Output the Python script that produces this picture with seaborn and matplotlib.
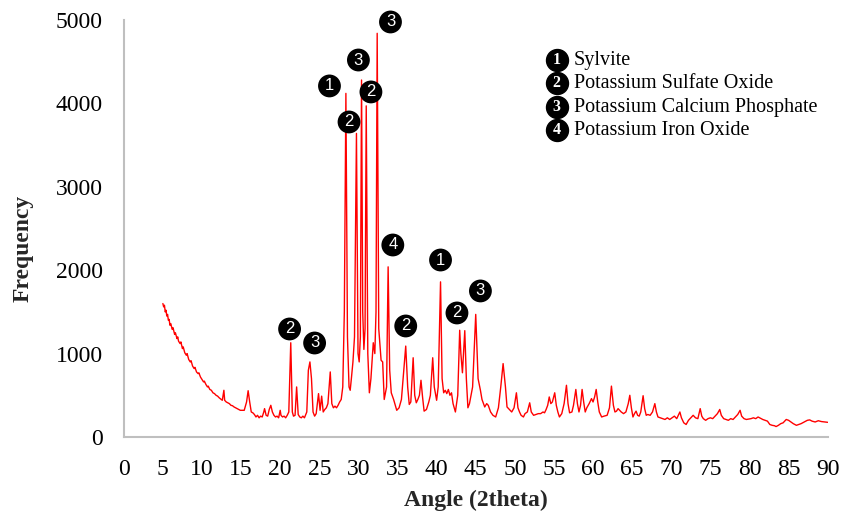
import pandas as pd
import matplotlib
matplotlib.use('Agg')
import matplotlib.pyplot as plt
import seaborn as sns

# XRD 패턴
angle = [5.0, 5.1, 5.2, 5.3, 5.4, 5.5, 5.6, 5.7, 5.8, 5.9, 6.0, 6.2, 6.3, 6.5, 6.6, 6.8, 6.9, 7.0,
         7.2, 7.3, 7.5, 7.6, 7.8, 8.0, 8.1, 8.3, 8.5, 8.6, 8.8, 9.0, 9.1, 9.3, 9.5, 9.6, 9.8, 10.0,
         10.2, 10.3, 10.5, 10.7, 10.8, 11.0, 11.2, 11.4, 11.6, 11.8, 12.0, 12.2, 12.4, 12.6, 12.8, 12.9,
         13.1, 13.3, 13.5, 13.7, 13.9, 14.1, 14.3, 14.5, 14.7, 14.9, 15.1, 15.4, 15.7, 15.9, 16.1, 16.3,
         16.5, 16.7, 16.9, 17.1, 17.3, 17.5, 17.7, 17.9, 18.0, 18.2, 18.4, 18.6, 18.8, 19.0, 19.2, 19.4,
         19.6, 19.8, 20.0, 20.1, 20.3, 20.5, 20.7, 20.9, 21.1, 21.35, 21.55, 21.7, 21.9, 22.1, 22.3, 22.5,
         22.7, 22.9, 23.1, 23.4, 23.6, 23.8, 24.0, 24.2, 24.4, 24.6, 24.9, 25.1, 25.3, 25.5, 25.7, 25.9,
         26.1, 26.4, 26.6, 26.8, 27.0, 27.2, 27.4, 27.6, 27.8, 28.0, 28.2, 28.4, 28.6, 28.8, 28.95, 29.1,
         29.3, 29.5, 29.75, 29.95, 30.1, 30.25, 30.4, 30.55, 30.7, 30.85, 31.0, 31.2, 31.4, 31.6, 31.9, 32.1,
         32.25, 32.4, 32.6, 32.9, 33.1, 33.3, 33.6, 33.8, 34.0, 34.2, 34.5, 34.9, 35.2, 35.5, 35.8, 36.05,
         36.3, 36.5, 36.7, 37.0, 37.2, 37.4, 37.6, 37.8, 38.0, 38.2, 38.4, 38.7, 39.0, 39.2, 39.5, 39.7,
         40.0, 40.2, 40.5, 40.7, 40.9, 41.1, 41.3, 41.5, 41.7, 41.9, 42.1, 42.4, 42.7, 42.95, 43.1, 43.3,
         43.6, 43.8, 44.0, 44.2, 44.6, 45.0, 45.3, 45.6, 45.8, 46.15, 46.4, 46.6, 46.9, 47.2, 47.55, 47.9,
         48.2, 48.5, 48.8, 49.0, 49.3, 49.6, 49.9, 50.2, 50.4, 50.6, 50.8, 51.1, 51.3, 51.6, 51.9, 52.1,
         52.4, 52.7, 53.0, 53.3, 53.6, 53.8, 54.0, 54.2, 54.4, 54.6, 54.8, 55.1, 55.3, 55.5, 55.7, 56.0,
         56.3, 56.6, 56.8, 57.0, 57.3, 57.5, 57.8, 58.0, 58.2, 58.4, 58.6, 58.8, 59.0, 59.2, 59.5, 59.8,
         60.0, 60.2, 60.4, 60.6, 60.8, 61.1, 61.4, 61.8, 62.1, 62.35, 62.6, 62.8, 63.0, 63.2, 63.4, 63.6,
         63.9, 64.2, 64.5, 64.7, 64.9, 65.1, 65.3, 65.5, 65.7, 65.9, 66.1, 66.4, 66.6, 66.8, 67.0, 67.3,
         67.6, 67.9, 68.1, 68.3, 68.6, 68.9, 69.2, 69.5, 69.8, 70.1, 70.4, 70.7, 71.1, 71.3, 71.6, 71.9,
         72.2, 72.5, 72.8, 73.1, 73.4, 73.7, 73.9, 74.1, 74.4, 74.7, 75.0, 75.3, 75.6, 75.9, 76.2, 76.4,
         76.7, 77.0, 77.3, 77.6, 77.9, 78.2, 78.5, 78.8, 79.0, 79.3, 79.6, 79.9, 80.2, 80.5, 80.8, 81.1,
         81.4, 81.7, 82.0, 82.3, 82.6, 82.9, 83.2, 83.4, 83.7, 84.0, 84.3, 84.7, 85.0, 85.3, 85.6, 86.0,
         86.3, 86.6, 87.0, 87.4, 87.7, 88.0, 88.4, 88.8, 89.2, 89.6, 90.0]
freq = [1600, 1560, 1580, 1500, 1520, 1450, 1470, 1400, 1410, 1340, 1360, 1290, 1310, 1230, 1250, 1180, 1200, 1150,
        1120, 1140, 1060, 1080, 1010, 980, 1000, 930, 900, 915, 850, 820, 835, 780, 760, 770, 720, 690,
        660, 670, 630, 600, 610, 570, 560, 530, 520, 500, 490, 470, 455, 440, 560, 440,
        420, 410, 400, 380, 375, 360, 350, 340, 330, 320, 320, 320, 420, 555, 420, 300,
        290, 270, 240, 260, 230, 250, 240, 300, 340, 260, 250, 330, 380, 300, 260, 240,
        250, 230, 320, 260, 240, 250, 230, 260, 300, 1130, 300, 250, 260, 600, 270, 240,
        230, 250, 230, 300, 800, 900, 700, 300, 250, 280, 520, 320, 490, 300, 330, 350,
        400, 780, 400, 350, 370, 350, 380, 420, 450, 600, 1500, 4120, 1200, 600, 560, 700,
        900, 1200, 3640, 1000, 900, 1200, 4280, 1500, 1050, 1300, 3970, 1000, 530, 700, 1130, 1000,
        1500, 4840, 1300, 920, 900, 450, 600, 2040, 800, 530, 450, 320, 350, 450, 800, 1090,
        600, 390, 420, 950, 500, 410, 450, 500, 680, 480, 310, 330, 420, 500, 950, 600,
        440, 600, 1860, 700, 530, 560, 520, 570, 500, 530, 400, 300, 500, 1280, 1000, 770,
        1275, 700, 350, 400, 600, 1470, 700, 560, 450, 360, 400, 380, 300, 260, 240, 350,
        600, 880, 600, 360, 330, 300, 350, 530, 350, 300, 260, 240, 280, 300, 410, 300,
        260, 270, 280, 280, 300, 290, 330, 380, 480, 400, 420, 530, 380, 300, 240, 280,
        400, 620, 400, 290, 300, 380, 570, 400, 300, 380, 570, 420, 300, 350, 400, 460,
        420, 480, 570, 420, 300, 240, 250, 260, 350, 610, 380, 300, 310, 340, 320, 300,
        280, 300, 400, 500, 350, 240, 280, 310, 260, 250, 300, 495, 340, 260, 270, 260,
        300, 400, 300, 240, 230, 220, 210, 230, 210, 230, 250, 220, 300, 230, 170, 150,
        200, 230, 260, 230, 220, 340, 250, 220, 200, 220, 230, 220, 250, 280, 330, 260,
        220, 210, 200, 220, 210, 240, 270, 320, 250, 220, 210, 215, 220, 230, 220, 240,
        225, 210, 200, 190, 150, 140, 135, 125, 140, 160, 170, 210, 200, 180, 160, 140,
        150, 160, 180, 200, 205, 190, 180, 195, 185, 180, 176]

# 피크 표시 (번호, 위치)
ann_x = [21.2, 24.4, 26.3, 28.8, 30.0, 31.6, 34.1, 34.4, 36.05, 40.5, 42.6, 45.6]
ann_y = [1295, 1127, 4209, 3777, 4520, 4137, 4976, 2302, 1331, 2122, 1487, 1751]
ann_label = ['2', '3', '1', '2', '3', '2', '3', '4', '2', '1', '2', '3']

legend_num = ['1', '2', '3', '4']
legend_text = ['Sylvite', 'Potassium Sulfate Oxide', 'Potassium Calcium Phosphate', 'Potassium Iron Oxide']

df = pd.DataFrame({'angle': angle, 'freq': freq})
ann = pd.DataFrame({'x': ann_x, 'y': ann_y, 'label': ann_label})

sns.set_theme(style='white')
plt.rcParams['font.family'] = ['Liberation Serif', 'DejaVu Serif']

fig, ax = plt.subplots(figsize=(8.42, 5.12), dpi=100)
fig.subplots_adjust(left=0.147, right=0.983, bottom=0.1465, top=0.961)

sns.lineplot(data=df, x='angle', y='freq', sort=False, color='#ff0000', linewidth=1.0, ax=ax)

# 검은 원 + 흰 번호
sns.scatterplot(data=ann, x='x', y='y', color='black', s=270, edgecolor='none', ax=ax, zorder=5, clip_on=False)
for _, r in ann.iterrows():
    ax.text(r['x'], r['y'], r['label'], color='white', fontsize=12, ha='center', va='center',
            family=['Liberation Sans', 'DejaVu Sans'], zorder=6, clip_on=False)

# 범례 (직접 그림)
rows_y = [0.904, 0.848, 0.791, 0.736]
for n, t, yy in zip(legend_num, legend_text, rows_y):
    ax.scatter([0.615], [yy], s=250, color='black', transform=ax.transAxes, zorder=5, clip_on=False)
    ax.text(0.615, yy, n, color='white', fontsize=11.5, fontweight='bold', ha='center', va='center',
            transform=ax.transAxes, zorder=6)
    ax.text(0.639, yy, t, color='black', fontsize=14.5, ha='left', va='center', transform=ax.transAxes)

ax.set_xlim(0, 90)
ax.set_ylim(0, 5000)
ax.set_xticks(range(0, 91, 5))
ax.set_yticks(range(0, 5001, 1000))
ax.tick_params(axis='both', length=0, labelsize=17, colors='black')
ax.tick_params(axis='y', pad=15)
ax.tick_params(axis='x', pad=16)

ax.set_xlabel('Angle (2theta)', fontsize=17, fontweight='bold', labelpad=7)
ax.set_ylabel('Frequency', fontsize=17, fontweight='bold')
ax.yaxis.set_label_coords(-0.128, 0.453)

sns.despine(ax=ax)
for s in ['left', 'bottom']:
    ax.spines[s].set_color('#bfbfbf')
    ax.spines[s].set_linewidth(1.5)

plt.savefig('out.png', dpi=100)
